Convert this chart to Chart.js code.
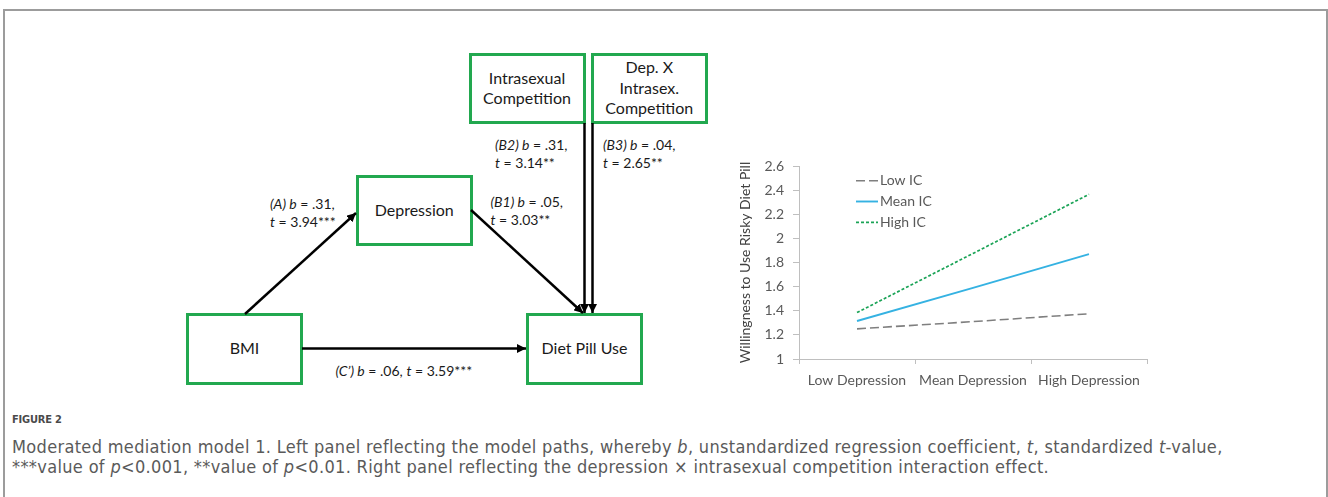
<!DOCTYPE html>
<html lang="en">

<head>
  <meta charset="utf-8">
  <meta name="viewport" content="width=device-width, initial-scale=1">
  <script src="https://cdn.jsdelivr.net/npm/chart.js"></script>
  <style>
    body {
      margin: 0;
      width: 1328px;
      height: 497px;
      overflow: hidden;
      background-color: #ffffff;
      font-family: Lato, "Open Sans", sans-serif;
      color: #1a1a1a;
      position: relative;
    }

    .frame {
      position: absolute;
      left: 3px;
      top: 9px;
      width: 1321px;
      height: 520px;
      border: 2px solid #9c9c9c;
      border-bottom: none;
    }

    .box {
      position: absolute;
      box-sizing: border-box;
      border: 3px solid #22a84f;
      display: flex;
      align-items: center;
      justify-content: center;
      text-align: center;
      font-size: 16px;
      line-height: 20.5px;
    }

    .lbl {
      position: absolute;
      font-size: 14px;
      line-height: 17.5px;
      white-space: nowrap;
    }

    .chart-wrap {
      position: absolute;
      left: 720px;
      top: 140px;
      width: 450px;
      height: 260px;
    }

    .fig-no {
      position: absolute;
      left: 12px;
      top: 413px;
      font-family: "Liberation Sans Narrow", "DejaVu Sans Condensed", sans-serif;
      font-size: 11px;
      font-weight: bold;
      letter-spacing: -0.2px;
      color: #4a4a4a;
    }

    .caption {
      position: absolute;
      left: 12px;
      font-family: "Liberation Sans Narrow", "DejaVu Sans Condensed", sans-serif;
      font-size: 18px;
      letter-spacing: 0.33px;
      line-height: 21px;
      color: #5a5a5a;
      white-space: nowrap;
    }
  </style>
</head>

<body>
  <div class="frame"></div>

  <!-- model path diagram -->
  <div class="box" style="left:468.5px; top:52.5px; width:117px; height:71px;">Intrasexual<br>Competition</div>
  <div class="box" style="left:591px; top:52.5px; width:116.5px; height:71px;">Dep. X<br>Intrasex.<br>Competition</div>
  <div class="box" style="left:356px; top:175px; width:116.5px; height:71px;">Depression</div>
  <div class="box" style="left:186px; top:312.5px; width:117px; height:72px;">BMI</div>
  <div class="box" style="left:526px; top:312.5px; width:117px; height:72px;">Diet Pill Use</div>

  <svg width="1328" height="497" style="position:absolute; left:0; top:0;">
    <defs>
      <marker id="head" viewBox="0 0 10 10" refX="10" refY="5" markerWidth="3.6" markerHeight="3.6" orient="auto" markerUnits="strokeWidth">
        <path d="M0,0 L10,5 L0,10 z" fill="#000"></path>
      </marker>
    </defs>
    <g stroke="#000" stroke-width="2.5" marker-end="url(#head)">
      <line x1="245" y1="314" x2="356" y2="213"></line>
      <line x1="471" y1="210" x2="583" y2="313"></line>
      <line x1="584.5" y1="123" x2="584.5" y2="313"></line>
      <line x1="592.5" y1="123" x2="592.5" y2="313"></line>
      <line x1="302" y1="348.5" x2="526" y2="348.5"></line>
    </g>
  </svg>

  <div class="lbl" style="left:270px; top:195px;"><i>(A) b</i> = .31,<br><i>t</i> = 3.94***</div>
  <div class="lbl" style="left:495px; top:136px;"><i>(B2) b</i> = .31,<br><i>t</i> = 3.14**</div>
  <div class="lbl" style="left:603px; top:136px;"><i>(B3) b</i> = .04,<br><i>t</i> = 2.65**</div>
  <div class="lbl" style="left:490.5px; top:193px;"><i>(B1) b</i> = .05,<br><i>t</i> = 3.03**</div>
  <div class="lbl" style="left:335.5px; top:362px;"><i>(C’) b</i> = .06, <i>t</i> = 3.59***</div>

  <!-- interaction plot -->
  <div class="chart-wrap">
    <canvas id="myChart"></canvas>
  </div>

  <div class="fig-no">FIGURE 2</div>
  <div class="caption" style="top:435.5px;">Moderated mediation model 1. Left panel reflecting the model paths, whereby <i>b</i>, unstandardized regression coefficient, <i>t</i>, standardized <i>t</i>-value,</div>
  <div class="caption" style="top:455.5px;">***value of <i>p</i>&lt;0.001, **value of <i>p</i>&lt;0.01. Right panel reflecting the depression × intrasexual competition interaction effect.</div>

  <script>
    const categories = ['Low Depression', 'Mean Depression', 'High Depression'];
    const seriesNames = ['Low IC', 'Mean IC', 'High IC'];
    const lowIC = [1.25, 1.31, 1.375];
    const meanIC = [1.315, 1.59, 1.87];
    const highIC = [1.385, 1.875, 2.365];
    const yTicks = [1, 1.2, 1.4, 1.6, 1.8, 2, 2.2, 2.4, 2.6];

    /* ------------------------------------------------ */

    const legendInside = {
      id: 'legendInside',
      afterDraw(chart) {
        const ctx = chart.ctx;
        const area = chart.chartArea;
        chart.data.datasets.forEach((ds, i) => {
          let x = area.left + 57;
          let y = area.top + 14.7 + i * 20.8;
          ctx.save();
          ctx.strokeStyle = ds.borderColor;
          ctx.lineWidth = ds.borderWidth;
          ctx.setLineDash(ds.borderDash || []);
          ctx.beginPath();
          ctx.moveTo(x, y);
          ctx.lineTo(x + 22, y);
          ctx.stroke();
          ctx.setLineDash([]);
          ctx.fillStyle = '#595959';
          ctx.font = '14px Lato';
          ctx.textBaseline = 'middle';
          ctx.fillText(ds.label, x + 24, y);
          ctx.restore();
        });
      }
    };

    buildChart();

    function buildChart() {
      let ctx = document.getElementById('myChart').getContext('2d');
      let styles = [
        { color: '#7f7f7f', dash: [9, 4], width: 1.6 },
        { color: '#35b2e2', dash: [], width: 1.9 },
        { color: '#1aa356', dash: [3, 2], width: 1.7 }
      ];
      let values = [lowIC, meanIC, highIC];

      let datasets = seriesNames.map((name, i) => ({
        label: name,
        data: values[i],
        fill: false,
        borderColor: styles[i].color,
        backgroundColor: styles[i].color,
        borderDash: styles[i].dash,
        borderWidth: styles[i].width,
        pointRadius: 0,
        tension: 0
      }));

      new Chart(ctx, {
        type: 'line',
        data: { labels: categories, datasets: datasets },
        plugins: [legendInside],
        options: {
          responsive: true,
          maintainAspectRatio: false,
          animation: false,
          layout: { padding: { top: 26, right: 23, bottom: 0, left: 0 } },
          plugins: {
            legend: { display: false },
            tooltip: { enabled: false }
          },
          scales: {
            x: {
              offset: true,
              afterFit: (s) => { s.height = 41; },
              grid: { offset: true, drawOnChartArea: false, tickLength: 5, color: '#bfbfbf' },
              border: { color: '#bfbfbf' },
              ticks: { color: '#595959', font: { family: 'Lato', size: 14 }, padding: 8, maxRotation: 0 }
            },
            y: {
              min: 1,
              max: 2.6,
              afterFit: (s) => { s.width = 79; },
              afterBuildTicks: (s) => { s.ticks = yTicks.map(v => ({ value: v })); },
              grid: { drawOnChartArea: false, tickLength: 6, color: '#bfbfbf' },
              border: { color: '#bfbfbf' },
              ticks: {
                color: '#595959',
                font: { family: 'Lato', size: 14 },
                padding: 9,
                callback: (v) => String(v)
              },
              title: {
                display: true,
                text: 'Willingness to Use Risky Diet Pill',
                color: '#404040',
                font: { family: 'Lato', size: 14 },
                padding: { top: 16.6, bottom: 0 }
              }
            }
          }
        }
      });
    }
  </script>
</body>

</html>
